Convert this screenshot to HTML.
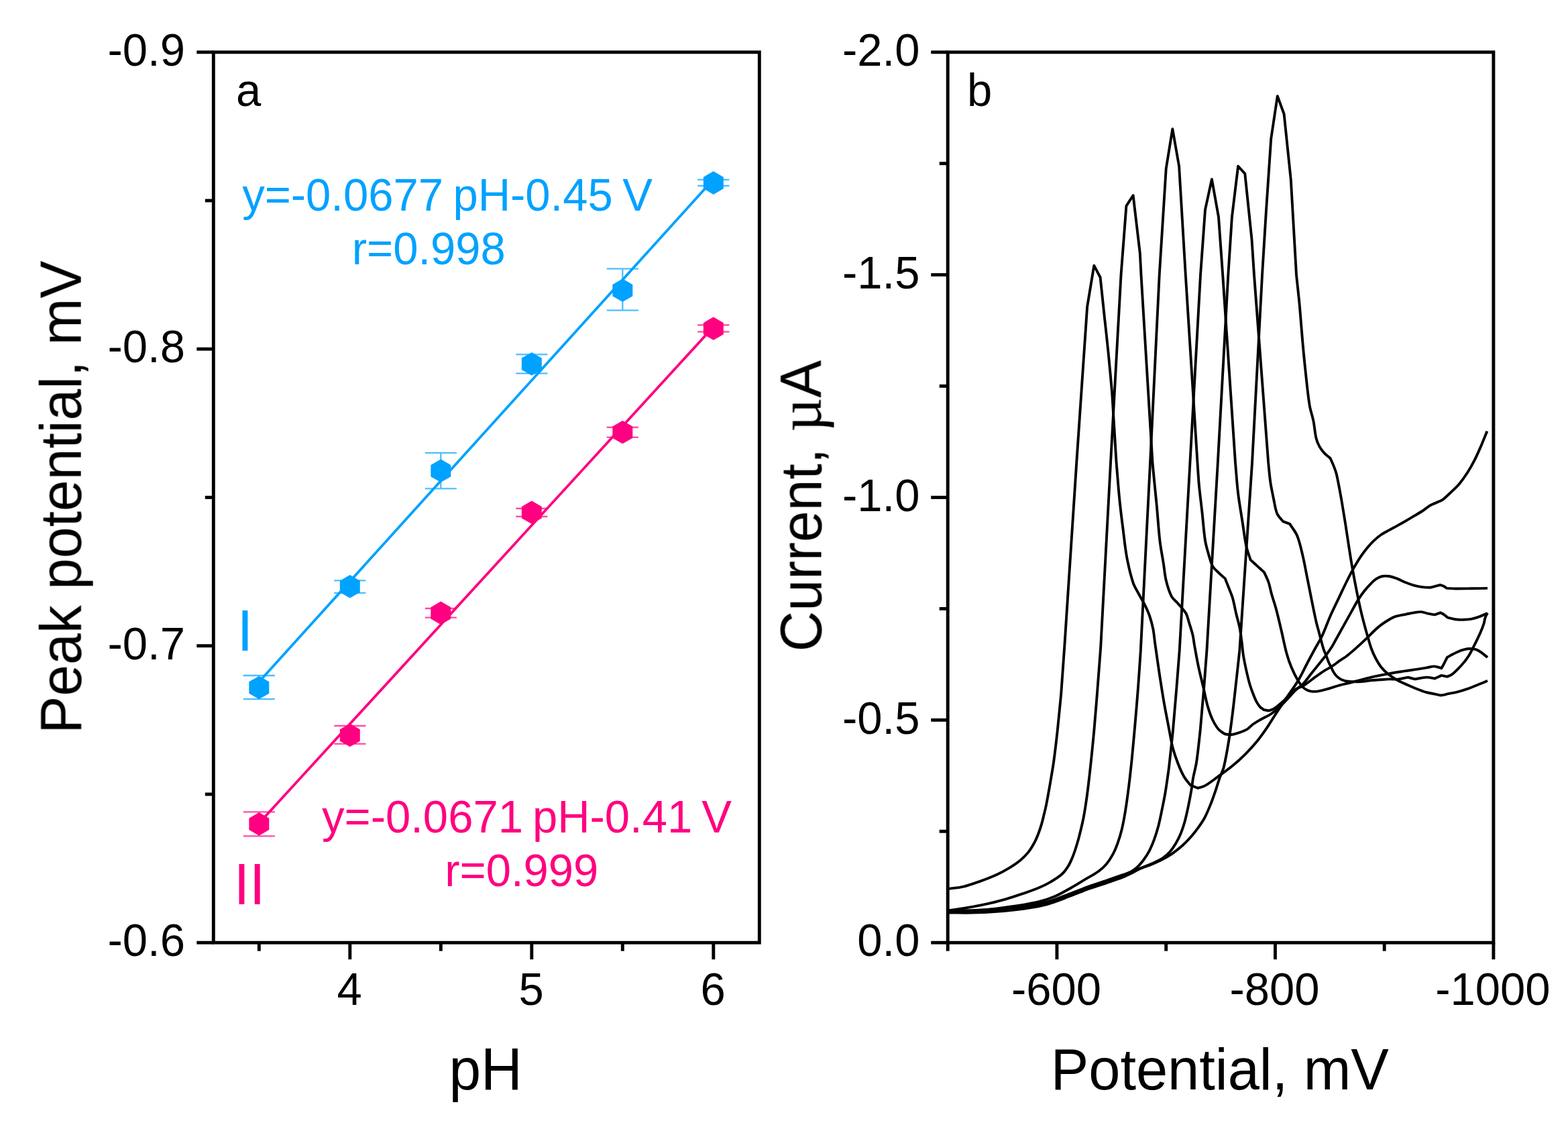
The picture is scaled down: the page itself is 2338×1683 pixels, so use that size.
<!DOCTYPE html>
<html lang="en">
<head>
<meta charset="utf-8">
<title>Peak potential vs pH and voltammograms</title>
<style>
html,body{margin:0;padding:0;background:#fff;}
body{width:2338px;height:1683px;overflow:hidden;}
svg{display:block;font-family:"Liberation Sans",sans-serif;}
</style>
</head>
<body>
<svg width="2338" height="1683" viewBox="0 0 2338 1683">
<defs><filter id="soft" x="0" y="0" width="2338" height="1683" filterUnits="userSpaceOnUse" color-interpolation-filters="sRGB"><feGaussianBlur stdDeviation="0.7"/></filter></defs>
<rect x="0" y="0" width="2338" height="1683" fill="#fff"/>
<g filter="url(#soft)">
<rect x="318.30" y="77.80" width="814.00" height="1327.40" fill="none" stroke="#000" stroke-width="4.9"/>
<line x1="293.30" y1="77.80" x2="318.30" y2="77.80" stroke="#000" stroke-width="4.9" stroke-linecap="butt"/>
<text transform="translate(276.00 98.00) scale(1 1.035)" font-size="67" text-anchor="end" fill="#000">-0.9</text>
<line x1="293.30" y1="520.27" x2="318.30" y2="520.27" stroke="#000" stroke-width="4.9" stroke-linecap="butt"/>
<text transform="translate(276.00 540.47) scale(1 1.035)" font-size="67" text-anchor="end" fill="#000">-0.8</text>
<line x1="293.30" y1="962.73" x2="318.30" y2="962.73" stroke="#000" stroke-width="4.9" stroke-linecap="butt"/>
<text transform="translate(276.00 982.93) scale(1 1.035)" font-size="67" text-anchor="end" fill="#000">-0.7</text>
<line x1="293.30" y1="1405.20" x2="318.30" y2="1405.20" stroke="#000" stroke-width="4.9" stroke-linecap="butt"/>
<text transform="translate(276.00 1425.40) scale(1 1.035)" font-size="67" text-anchor="end" fill="#000">-0.6</text>
<line x1="305.80" y1="299.03" x2="318.30" y2="299.03" stroke="#000" stroke-width="4.9" stroke-linecap="butt"/>
<line x1="305.80" y1="741.50" x2="318.30" y2="741.50" stroke="#000" stroke-width="4.9" stroke-linecap="butt"/>
<line x1="305.80" y1="1183.97" x2="318.30" y2="1183.97" stroke="#000" stroke-width="4.9" stroke-linecap="butt"/>
<line x1="521.80" y1="1405.20" x2="521.80" y2="1430.20" stroke="#000" stroke-width="4.9" stroke-linecap="butt"/>
<text transform="translate(521.20 1498.00) scale(1 1.035)" font-size="67" text-anchor="middle" fill="#000">4</text>
<line x1="792.80" y1="1405.20" x2="792.80" y2="1430.20" stroke="#000" stroke-width="4.9" stroke-linecap="butt"/>
<text transform="translate(792.20 1498.00) scale(1 1.035)" font-size="67" text-anchor="middle" fill="#000">5</text>
<line x1="1063.80" y1="1405.20" x2="1063.80" y2="1430.20" stroke="#000" stroke-width="4.9" stroke-linecap="butt"/>
<text transform="translate(1063.20 1498.00) scale(1 1.035)" font-size="67" text-anchor="middle" fill="#000">6</text>
<line x1="386.30" y1="1405.20" x2="386.30" y2="1417.70" stroke="#000" stroke-width="4.9" stroke-linecap="butt"/>
<line x1="657.30" y1="1405.20" x2="657.30" y2="1417.70" stroke="#000" stroke-width="4.9" stroke-linecap="butt"/>
<line x1="928.30" y1="1405.20" x2="928.30" y2="1417.70" stroke="#000" stroke-width="4.9" stroke-linecap="butt"/>
<text transform="translate(724.20 1624.00) scale(1 1.035)" font-size="85.6" text-anchor="middle" fill="#000">pH</text>
<text transform="translate(120.30 741.20) rotate(-90) scale(1 1.035)" font-size="84" text-anchor="middle" fill="#000">Peak potential, mV</text>
<text transform="translate(352.00 158.00) scale(1 1.035)" font-size="67" text-anchor="start" fill="#000">a</text>
<line x1="386.20" y1="1016.50" x2="1063.80" y2="267.30" stroke="#00A2FF" stroke-width="3.8" stroke-linecap="round"/>
<line x1="386.20" y1="1227.20" x2="1063.80" y2="487.20" stroke="#FF0080" stroke-width="3.8" stroke-linecap="round"/>
<path d="M362.70 1007.00H409.90M362.70 1042.20H409.90M386.30 1007.00V1042.20" fill="none" stroke="#00A2FF" stroke-width="2.3" opacity="0.7"/>
<path d="M498.20 865.40H545.40M498.20 883.90H545.40M521.80 865.40V883.90" fill="none" stroke="#00A2FF" stroke-width="2.3" opacity="0.7"/>
<path d="M633.70 675.20H680.90M633.70 728.30H680.90M657.30 675.20V728.30" fill="none" stroke="#00A2FF" stroke-width="2.3" opacity="0.7"/>
<path d="M769.20 528.30H816.40M769.20 556.70H816.40M792.80 528.30V556.70" fill="none" stroke="#00A2FF" stroke-width="2.3" opacity="0.7"/>
<path d="M904.70 400.60H951.90M904.70 462.60H951.90M928.30 400.60V462.60" fill="none" stroke="#00A2FF" stroke-width="2.3" opacity="0.7"/>
<path d="M1040.20 267.80H1087.40M1040.20 277.00H1087.40M1063.80 267.80V277.00" fill="none" stroke="#00A2FF" stroke-width="2.3" opacity="0.7"/>
<path d="M362.70 1210.40H409.90M362.70 1246.30H409.90M386.30 1210.40V1246.30" fill="none" stroke="#FF0080" stroke-width="2.3" opacity="0.7"/>
<path d="M498.20 1082.00H545.40M498.20 1108.90H545.40M521.80 1082.00V1108.90" fill="none" stroke="#FF0080" stroke-width="2.3" opacity="0.7"/>
<path d="M633.70 907.00H680.90M633.70 920.60H680.90M657.30 907.00V920.60" fill="none" stroke="#FF0080" stroke-width="2.3" opacity="0.7"/>
<path d="M769.20 758.00H816.40M769.20 770.00H816.40M792.80 758.00V770.00" fill="none" stroke="#FF0080" stroke-width="2.3" opacity="0.7"/>
<path d="M904.70 637.00H951.90M904.70 651.90H951.90M928.30 637.00V651.90" fill="none" stroke="#FF0080" stroke-width="2.3" opacity="0.7"/>
<path d="M1040.20 484.50H1087.40M1040.20 494.60H1087.40M1063.80 484.50V494.60" fill="none" stroke="#FF0080" stroke-width="2.3" opacity="0.7"/>
<polygon points="386.30,1007.70 371.32,1016.35 371.32,1033.65 386.30,1042.30 401.28,1033.65 401.28,1016.35" fill="#00A2FF"/>
<polygon points="521.80,857.00 506.82,865.65 506.82,882.95 521.80,891.60 536.78,882.95 536.78,865.65" fill="#00A2FF"/>
<polygon points="657.30,684.50 642.32,693.15 642.32,710.45 657.30,719.10 672.28,710.45 672.28,693.15" fill="#00A2FF"/>
<polygon points="792.80,525.20 777.82,533.85 777.82,551.15 792.80,559.80 807.78,551.15 807.78,533.85" fill="#00A2FF"/>
<polygon points="928.30,415.50 913.32,424.15 913.32,441.45 928.30,450.10 943.28,441.45 943.28,424.15" fill="#00A2FF"/>
<polygon points="1063.80,255.30 1048.82,263.95 1048.82,281.25 1063.80,289.90 1078.78,281.25 1078.78,263.95" fill="#00A2FF"/>
<polygon points="386.30,1211.10 371.32,1219.75 371.32,1237.05 386.30,1245.70 401.28,1237.05 401.28,1219.75" fill="#FF0080"/>
<polygon points="521.80,1078.70 506.82,1087.35 506.82,1104.65 521.80,1113.30 536.78,1104.65 536.78,1087.35" fill="#FF0080"/>
<polygon points="657.30,896.50 642.32,905.15 642.32,922.45 657.30,931.10 672.28,922.45 672.28,905.15" fill="#FF0080"/>
<polygon points="792.80,746.50 777.82,755.15 777.82,772.45 792.80,781.10 807.78,772.45 807.78,755.15" fill="#FF0080"/>
<polygon points="928.30,627.00 913.32,635.65 913.32,652.95 928.30,661.60 943.28,652.95 943.28,635.65" fill="#FF0080"/>
<polygon points="1063.80,472.50 1048.82,481.15 1048.82,498.45 1063.80,507.10 1078.78,498.45 1078.78,481.15" fill="#FF0080"/>
<text transform="translate(667.00 313.60) scale(1 1.035)" font-size="67" text-anchor="middle" fill="#00A2FF" word-spacing="-4.2">y=-0.0677 pH-0.45 V</text>
<text transform="translate(639.30 393.60) scale(1 1.035)" font-size="67" text-anchor="middle" fill="#00A2FF">r=0.998</text>
<text transform="translate(785.50 1241.00) scale(1 1.035)" font-size="67" text-anchor="middle" fill="#FF0080" word-spacing="-4.6">y=-0.0671 pH-0.41 V</text>
<text transform="translate(777.80 1321.00) scale(1 1.035)" font-size="67" text-anchor="middle" fill="#FF0080">r=0.999</text>
<text transform="translate(353.70 970.00) scale(1 1.035)" font-size="84" text-anchor="start" fill="#00A2FF">I</text>
<text transform="translate(348.70 1347.80) scale(1 1.035)" font-size="84" text-anchor="start" fill="#FF0080">II</text>
<rect x="1413.20" y="77.80" width="813.70" height="1327.40" fill="none" stroke="#000" stroke-width="4.9"/>
<line x1="1388.20" y1="77.80" x2="1413.20" y2="77.80" stroke="#000" stroke-width="4.9" stroke-linecap="butt"/>
<text transform="translate(1371.50 98.00) scale(1 1.035)" font-size="67" text-anchor="end" fill="#000">-2.0</text>
<line x1="1388.20" y1="409.65" x2="1413.20" y2="409.65" stroke="#000" stroke-width="4.9" stroke-linecap="butt"/>
<text transform="translate(1371.50 429.85) scale(1 1.035)" font-size="67" text-anchor="end" fill="#000">-1.5</text>
<line x1="1388.20" y1="741.50" x2="1413.20" y2="741.50" stroke="#000" stroke-width="4.9" stroke-linecap="butt"/>
<text transform="translate(1371.50 761.70) scale(1 1.035)" font-size="67" text-anchor="end" fill="#000">-1.0</text>
<line x1="1388.20" y1="1073.35" x2="1413.20" y2="1073.35" stroke="#000" stroke-width="4.9" stroke-linecap="butt"/>
<text transform="translate(1371.50 1093.55) scale(1 1.035)" font-size="67" text-anchor="end" fill="#000">-0.5</text>
<line x1="1388.20" y1="1405.20" x2="1413.20" y2="1405.20" stroke="#000" stroke-width="4.9" stroke-linecap="butt"/>
<text transform="translate(1371.50 1425.40) scale(1 1.035)" font-size="67" text-anchor="end" fill="#000">0.0</text>
<line x1="1400.70" y1="243.72" x2="1413.20" y2="243.72" stroke="#000" stroke-width="4.9" stroke-linecap="butt"/>
<line x1="1400.70" y1="575.58" x2="1413.20" y2="575.58" stroke="#000" stroke-width="4.9" stroke-linecap="butt"/>
<line x1="1400.70" y1="907.42" x2="1413.20" y2="907.42" stroke="#000" stroke-width="4.9" stroke-linecap="butt"/>
<line x1="1400.70" y1="1239.28" x2="1413.20" y2="1239.28" stroke="#000" stroke-width="4.9" stroke-linecap="butt"/>
<line x1="1575.94" y1="1405.20" x2="1575.94" y2="1430.20" stroke="#000" stroke-width="4.9" stroke-linecap="butt"/>
<text transform="translate(1574.94 1498.00) scale(1 1.035)" font-size="67" text-anchor="middle" fill="#000">-600</text>
<line x1="1901.42" y1="1405.20" x2="1901.42" y2="1430.20" stroke="#000" stroke-width="4.9" stroke-linecap="butt"/>
<text transform="translate(1900.42 1498.00) scale(1 1.035)" font-size="67" text-anchor="middle" fill="#000">-800</text>
<line x1="2226.90" y1="1405.20" x2="2226.90" y2="1430.20" stroke="#000" stroke-width="4.9" stroke-linecap="butt"/>
<text transform="translate(2225.90 1498.00) scale(1 1.035)" font-size="67" text-anchor="middle" fill="#000">-1000</text>
<line x1="1413.20" y1="1405.20" x2="1413.20" y2="1417.70" stroke="#000" stroke-width="4.9" stroke-linecap="butt"/>
<line x1="1738.68" y1="1405.20" x2="1738.68" y2="1417.70" stroke="#000" stroke-width="4.9" stroke-linecap="butt"/>
<line x1="2064.16" y1="1405.20" x2="2064.16" y2="1417.70" stroke="#000" stroke-width="4.9" stroke-linecap="butt"/>
<text transform="translate(1818.80 1624.00) scale(1 1.035)" font-size="84.8" text-anchor="middle" fill="#000">Potential, mV</text>
<text transform="translate(1224.30 754.20) rotate(-90) scale(1 1.035)" font-size="84" text-anchor="middle" fill="#000">Current, <tspan font-family="Liberation Serif,serif" font-size="88" dx="1">µ</tspan><tspan dx="0">A</tspan></text>
<text transform="translate(1442.00 158.00) scale(1 1.035)" font-size="67" text-anchor="start" fill="#000">b</text>
<path d="M1414.8 1324.9C1422.2 1323.8 1429.8 1323.3 1437.0 1321.6C1445.4 1319.6 1453.6 1316.5 1461.7 1313.6C1470.0 1310.6 1478.3 1307.4 1486.4 1303.7C1492.7 1300.8 1498.9 1297.4 1504.9 1293.8C1510.5 1290.4 1516.0 1286.8 1521.0 1282.7C1525.5 1279.0 1529.7 1274.9 1533.3 1270.4C1536.7 1266.2 1539.4 1261.5 1542.0 1256.8C1544.4 1252.4 1546.3 1247.8 1548.1 1243.2C1550.0 1238.4 1551.6 1233.4 1553.1 1228.4C1554.5 1223.5 1555.6 1218.5 1556.8 1213.6C1557.9 1209.1 1559.1 1204.6 1560.0 1200.0C1562.0 1189.8 1563.8 1179.5 1565.6 1169.3C1567.5 1158.2 1569.5 1147.1 1571.1 1135.9C1573.2 1120.5 1575.0 1105.1 1576.7 1089.6C1578.7 1071.1 1580.4 1052.6 1582.2 1034.1C1584.0 1009.4 1585.7 984.7 1587.5 960.0C1593.4 870.0 1599.3 780.0 1605.2 690.0C1610.5 612.5 1615.8 534.9 1621.1 457.4C1624.5 436.9 1627.9 416.4 1631.3 395.9C1634.4 401.8 1637.5 407.6 1640.6 413.5C1642.7 433.7 1644.9 453.8 1647.0 474.0C1648.9 491.3 1650.9 508.7 1652.6 526.0C1654.6 545.7 1656.3 565.3 1658.1 585.0C1660.3 620.0 1662.4 655.0 1664.6 690.0C1666.2 708.3 1667.5 726.6 1669.3 744.8C1670.9 760.3 1672.8 775.7 1674.8 791.1C1676.5 804.7 1677.8 818.4 1680.4 831.9C1682.8 844.4 1685.7 856.9 1689.6 868.9C1691.3 874.1 1694.4 878.8 1697.0 883.7C1700.0 889.3 1703.4 894.7 1706.3 900.4C1709.0 905.8 1711.7 911.3 1713.7 917.0C1716.0 923.6 1717.9 930.5 1719.3 937.4C1720.7 944.5 1721.2 951.8 1722.2 959.0C1724.3 973.5 1726.3 988.1 1728.5 1002.6C1730.9 1018.1 1733.2 1033.5 1735.9 1048.9C1738.2 1061.9 1740.8 1074.8 1743.3 1087.8C1745.1 1097.1 1746.5 1106.5 1748.9 1115.6C1750.9 1123.1 1753.5 1130.6 1756.3 1137.8C1759.0 1144.7 1761.9 1151.7 1765.6 1158.1C1768.1 1162.5 1771.7 1166.2 1774.8 1170.2C1778.5 1171.7 1782.2 1173.3 1785.9 1174.8C1789.6 1173.6 1793.6 1173.0 1797.0 1171.1C1803.5 1167.4 1809.5 1162.5 1815.6 1158.1C1823.1 1152.7 1830.7 1147.3 1837.8 1141.5C1844.2 1136.2 1850.4 1130.7 1856.3 1124.8C1862.8 1118.3 1869.0 1111.5 1874.8 1104.4C1880.1 1097.9 1884.9 1091.0 1889.6 1084.1C1894.1 1077.4 1898.2 1070.5 1902.6 1063.7C1907.8 1055.8 1913.1 1047.9 1918.4 1040.0C1924.1 1031.5 1930.3 1023.4 1935.5 1014.7C1940.5 1006.4 1944.5 997.5 1949.0 989.0C1953.0 981.4 1957.1 973.8 1961.2 966.3C1963.8 961.6 1966.7 957.0 1969.2 952.2C1970.8 949.2 1972.2 946.1 1973.5 943.0C1977.3 934.0 1980.7 924.8 1984.7 915.8C1988.6 907.1 1992.9 898.5 1997.0 889.9C2001.1 881.3 2005.1 872.6 2009.4 864.0C2012.5 857.7 2015.8 851.5 2019.3 845.4C2022.4 840.0 2025.6 834.6 2029.1 829.4C2032.0 825.1 2035.1 821.0 2038.4 817.0C2041.3 813.5 2044.3 810.0 2047.6 806.8C2051.1 803.5 2054.8 800.3 2058.8 797.5C2062.7 794.8 2067.0 792.7 2071.1 790.4C2075.2 788.1 2079.4 785.9 2083.5 783.6C2087.6 781.3 2091.7 779.1 2095.8 776.8C2099.9 774.4 2104.0 771.9 2108.1 769.4C2112.2 766.9 2116.5 764.6 2120.5 762.0C2124.7 759.3 2128.5 755.8 2132.8 753.3C2136.7 751.1 2141.1 749.7 2145.2 747.8C2147.3 746.8 2149.6 746.1 2151.4 744.7C2155.7 741.4 2159.7 737.4 2163.7 733.6C2167.9 729.6 2172.3 725.7 2176.0 721.2C2180.5 715.8 2184.6 709.9 2188.4 704.0C2192.0 698.4 2195.3 692.6 2198.3 686.7C2201.4 680.6 2204.1 674.3 2206.9 668.1C2209.1 663.2 2211.0 658.2 2213.1 653.3C2214.5 649.8 2216.0 646.3 2217.4 642.8" fill="none" stroke="#000" stroke-width="3.9" stroke-linejoin="round" stroke-linecap="butt"/>
<path d="M1414.8 1357.4C1426.3 1355.6 1437.9 1353.9 1449.4 1351.9C1457.7 1350.4 1465.9 1348.8 1474.1 1346.9C1482.4 1345.0 1490.6 1343.0 1498.8 1340.7C1507.1 1338.3 1515.3 1335.5 1523.5 1332.7C1531.7 1329.9 1540.1 1327.2 1548.1 1323.8C1554.5 1321.1 1560.7 1318.1 1566.7 1314.6C1572.4 1311.2 1578.3 1307.7 1583.2 1303.3C1586.9 1300.0 1589.8 1295.8 1592.5 1291.6C1595.0 1287.8 1596.8 1283.5 1598.6 1279.3C1600.5 1275.0 1602.0 1270.5 1603.5 1266.0C1605.1 1261.0 1606.6 1256.0 1608.0 1251.0C1609.4 1246.0 1610.6 1241.0 1611.8 1236.0C1613.1 1230.7 1614.3 1225.4 1615.4 1220.0C1616.6 1214.0 1617.6 1208.0 1618.5 1202.0C1620.0 1192.4 1621.3 1182.7 1622.5 1173.0C1624.0 1160.6 1625.4 1148.3 1626.7 1135.9C1628.3 1120.5 1629.9 1105.0 1631.3 1089.6C1633.0 1071.1 1634.4 1052.6 1635.9 1034.1C1637.7 1011.1 1639.4 988.0 1641.2 965.0C1646.1 873.3 1651.1 781.7 1656.0 690.0C1661.2 596.7 1666.3 503.3 1671.5 410.0C1674.1 375.7 1676.8 341.3 1679.4 307.0C1682.8 301.8 1686.2 296.5 1689.6 291.3C1693.0 320.0 1696.4 348.7 1699.8 377.4C1700.4 388.3 1700.9 399.1 1701.5 410.0C1707.2 503.3 1712.8 596.7 1718.5 690.0C1719.4 699.0 1720.2 708.0 1721.1 717.0C1722.3 729.4 1723.6 741.7 1724.8 754.1C1726.4 771.4 1727.4 788.7 1729.4 805.9C1730.8 817.7 1733.2 829.4 1735.0 841.1C1736.3 849.1 1736.7 857.3 1738.7 865.2C1740.7 873.4 1743.2 881.9 1747.0 889.3C1749.1 893.3 1753.3 895.9 1756.3 899.4C1760.4 904.3 1765.1 908.9 1768.3 914.3C1770.7 918.4 1771.5 923.5 1773.0 928.1C1774.9 934.3 1777.0 940.4 1778.5 946.7C1779.7 951.7 1780.1 956.9 1781.0 962.0C1782.9 972.4 1784.7 982.9 1786.9 993.3C1789.1 1003.8 1791.9 1014.3 1794.3 1024.8C1796.5 1034.1 1798.1 1043.5 1800.7 1052.6C1802.7 1059.5 1805.0 1066.5 1808.1 1073.0C1810.6 1078.2 1813.6 1083.5 1817.4 1087.8C1819.8 1090.6 1823.6 1092.1 1826.7 1094.3C1829.8 1094.6 1832.9 1095.5 1835.9 1095.2C1839.6 1094.8 1843.4 1093.6 1847.0 1092.4C1851.4 1090.9 1856.0 1089.3 1860.0 1086.9C1862.9 1085.1 1865.0 1082.0 1867.8 1080.0C1871.7 1077.2 1875.9 1074.9 1880.0 1072.5C1885.1 1069.5 1890.7 1067.3 1895.6 1064.0C1900.0 1061.1 1904.1 1057.6 1908.0 1054.0C1912.6 1049.8 1916.8 1045.1 1921.1 1040.5C1924.5 1036.9 1927.4 1032.9 1931.0 1029.5C1934.7 1025.9 1939.4 1023.3 1942.9 1019.6C1947.4 1014.9 1951.0 1009.4 1955.1 1004.3C1959.2 999.2 1963.3 994.1 1967.4 989.0C1970.7 984.9 1974.1 980.9 1977.2 976.7C1980.2 972.7 1983.0 968.7 1985.7 964.5C1987.6 961.5 1989.2 958.4 1990.9 955.3C1995.0 947.9 1999.1 940.5 2003.2 933.1C2007.3 925.7 2011.4 918.3 2015.6 910.9C2018.8 905.1 2021.9 899.2 2025.4 893.6C2028.1 889.3 2031.0 885.2 2034.1 881.2C2037.2 877.3 2040.5 873.6 2044.0 870.1C2046.7 867.4 2049.5 864.7 2052.6 862.7C2055.2 861.0 2058.2 859.6 2061.2 859.0C2064.4 858.4 2067.9 858.5 2071.1 859.0C2075.3 859.7 2079.5 861.2 2083.5 862.7C2087.7 864.3 2091.6 866.6 2095.8 868.3C2099.8 869.9 2103.9 871.4 2108.1 872.6C2112.2 873.7 2116.3 874.6 2120.5 875.1C2124.6 875.6 2128.7 876.0 2132.8 875.7C2135.3 875.5 2137.7 874.4 2140.2 873.8C2142.7 873.2 2145.2 872.6 2147.7 872.0C2149.3 872.6 2151.1 873.0 2152.6 873.8C2154.3 874.7 2155.9 875.9 2157.5 876.9C2161.6 877.1 2165.8 877.5 2169.9 877.5C2178.1 877.6 2186.4 877.4 2194.6 877.3C2202.4 877.2 2210.2 877.0 2218.0 876.9" fill="none" stroke="#000" stroke-width="3.9" stroke-linejoin="round" stroke-linecap="butt"/>
<path d="M1414.8 1359.3C1430.4 1358.5 1446.1 1358.3 1461.7 1357.0C1478.2 1355.6 1494.7 1353.4 1511.1 1351.0C1523.5 1349.2 1536.0 1347.4 1548.1 1344.5C1556.5 1342.5 1564.9 1339.7 1572.8 1336.3C1581.3 1332.6 1589.4 1327.8 1597.5 1323.2C1604.6 1319.2 1611.5 1314.8 1618.5 1310.6C1624.7 1306.9 1631.2 1303.7 1637.0 1299.5C1641.5 1296.3 1645.8 1292.6 1649.4 1288.4C1653.2 1283.9 1656.5 1278.8 1659.3 1273.6C1662.3 1268.1 1664.6 1262.2 1666.7 1256.3C1669.1 1249.7 1671.1 1242.9 1672.8 1236.0C1674.7 1228.1 1676.1 1220.0 1677.5 1212.0C1679.0 1202.9 1680.3 1193.8 1681.5 1184.7C1682.6 1176.5 1683.6 1168.2 1684.6 1160.0C1685.7 1150.1 1686.8 1140.3 1687.8 1130.4C1689.4 1113.7 1690.9 1097.1 1692.4 1080.4C1694.0 1061.9 1695.6 1043.3 1697.0 1024.8C1698.4 1006.5 1699.5 988.3 1700.8 970.0C1705.5 876.7 1710.3 783.3 1715.0 690.0C1719.6 596.7 1724.1 503.3 1728.7 410.0C1732.0 357.2 1735.4 304.3 1738.7 251.5C1741.9 231.7 1745.1 212.0 1748.3 192.2C1751.6 210.7 1754.8 229.3 1758.1 247.8C1761.3 301.9 1764.6 355.9 1767.8 410.0C1773.7 503.3 1779.6 596.7 1785.5 690.0C1786.3 700.9 1786.8 711.8 1787.8 722.6C1789.1 736.2 1790.9 749.7 1792.4 763.3C1794.0 777.5 1794.8 791.8 1797.0 805.9C1798.2 813.4 1800.5 820.8 1802.6 828.1C1804.2 833.4 1805.4 839.2 1808.1 843.9C1810.3 847.8 1814.1 850.9 1817.4 854.1C1820.3 857.0 1823.6 859.6 1826.7 862.4C1828.5 867.0 1830.4 871.7 1832.2 876.3C1834.1 881.2 1836.4 886.0 1837.8 891.1C1840.1 899.0 1841.4 907.2 1843.3 915.2C1845.0 922.2 1847.1 929.0 1848.5 936.0C1849.9 943.3 1850.7 950.7 1851.7 958.0C1852.5 964.3 1852.9 970.7 1853.9 977.0C1855.2 984.8 1856.8 992.5 1858.5 1000.2C1859.9 1006.4 1861.3 1012.6 1863.1 1018.7C1864.4 1023.4 1866.1 1028.0 1867.8 1032.6C1869.5 1037.0 1871.1 1041.4 1873.3 1045.6C1874.8 1048.5 1876.7 1051.4 1878.9 1053.9C1880.4 1055.6 1882.6 1056.7 1884.4 1058.1C1886.9 1058.5 1889.4 1059.0 1891.9 1059.4C1894.4 1058.5 1897.0 1058.0 1899.3 1056.7C1902.0 1055.2 1904.3 1053.1 1906.7 1051.1C1909.2 1049.0 1911.7 1046.9 1914.1 1044.6C1917.2 1041.6 1920.2 1038.4 1923.3 1035.4C1926.3 1032.5 1929.2 1029.3 1932.6 1027.0C1935.7 1025.0 1939.7 1024.5 1942.9 1022.5C1949.3 1018.5 1955.1 1013.6 1961.2 1009.2C1965.3 1006.3 1969.3 1003.3 1973.5 1000.6C1977.3 998.2 1981.4 996.3 1985.1 993.9C1989.5 991.0 1993.7 987.7 1998.0 984.7C2001.3 982.4 2004.8 980.4 2008.0 978.0C2012.7 974.3 2017.2 970.4 2021.7 966.4C2027.6 961.2 2033.3 955.8 2039.0 950.4C2042.4 947.2 2045.5 943.7 2048.9 940.5C2052.1 937.5 2055.3 934.5 2058.8 931.9C2062.7 929.0 2066.9 926.3 2071.1 923.8C2074.3 921.9 2077.5 920.0 2081.0 918.9C2085.8 917.4 2090.9 916.8 2095.8 915.8C2099.9 915.0 2104.0 914.0 2108.1 913.3C2111.8 912.7 2115.6 911.9 2119.3 912.1C2122.6 912.3 2125.8 913.9 2129.1 914.6C2132.4 915.3 2135.7 915.8 2139.0 916.4C2141.9 915.4 2144.8 914.3 2147.7 913.3C2149.3 914.1 2151.1 914.8 2152.6 915.8C2154.8 917.3 2156.7 919.1 2158.8 920.7C2162.5 921.5 2166.2 922.7 2169.9 923.2C2174.0 923.7 2178.1 923.9 2182.2 923.8C2186.3 923.7 2190.5 923.4 2194.6 922.6C2198.8 921.8 2202.9 920.4 2206.9 918.9C2210.7 917.5 2214.3 915.6 2218.0 914.0" fill="none" stroke="#000" stroke-width="3.9" stroke-linejoin="round" stroke-linecap="butt"/>
<path d="M1414.8 1357.0C1426.3 1357.0 1437.9 1357.4 1449.4 1357.1C1461.7 1356.8 1474.1 1356.2 1486.4 1355.3C1498.8 1354.4 1511.2 1353.3 1523.5 1351.6C1535.9 1349.8 1548.4 1348.1 1560.5 1344.8C1573.1 1341.4 1585.2 1336.1 1597.5 1331.5C1606.6 1328.1 1615.6 1324.3 1624.7 1321.0C1632.9 1318.1 1641.2 1315.6 1649.4 1312.8C1657.7 1310.0 1665.9 1307.1 1674.1 1304.2C1678.2 1302.7 1682.5 1301.5 1686.4 1299.5C1689.5 1297.9 1692.5 1295.7 1695.1 1293.3C1698.7 1290.0 1701.9 1286.1 1704.9 1282.2C1708.1 1277.9 1711.1 1273.4 1713.6 1268.6C1716.5 1263.1 1718.8 1257.3 1721.0 1251.4C1723.4 1244.9 1725.4 1238.3 1727.2 1231.6C1729.1 1224.3 1730.6 1216.8 1732.1 1209.4C1733.8 1201.2 1735.5 1193.0 1737.0 1184.7C1738.3 1177.2 1739.4 1169.6 1740.5 1162.0C1741.5 1155.2 1742.5 1148.4 1743.3 1141.5C1745.3 1124.2 1747.0 1106.9 1748.9 1089.6C1750.7 1068.0 1752.6 1046.4 1754.4 1024.8C1755.8 1006.5 1757.3 988.3 1758.7 970.0C1763.9 876.7 1769.2 783.3 1774.4 690.0C1779.6 596.7 1784.8 503.3 1790.0 410.0C1792.3 377.5 1794.7 345.1 1797.0 312.6C1800.3 297.5 1803.6 282.3 1806.9 267.2C1810.3 286.0 1813.6 304.9 1817.0 323.7C1819.1 352.5 1821.1 381.2 1823.2 410.0C1829.5 503.3 1835.7 596.7 1842.0 690.0C1843.4 705.2 1844.3 720.5 1846.1 735.6C1847.8 749.8 1850.4 763.9 1852.6 778.1C1854.4 789.8 1855.6 801.7 1858.1 813.3C1859.6 820.5 1862.4 827.5 1864.6 834.6C1868.0 837.7 1871.4 840.8 1874.8 843.9C1878.2 847.0 1881.6 850.0 1885.0 853.1C1887.2 858.1 1889.8 862.9 1891.5 868.0C1893.4 873.4 1894.2 879.2 1895.8 884.7C1898.1 893.0 1901.0 901.1 1903.2 909.4C1905.9 919.4 1908.1 929.5 1910.5 939.5C1913.2 950.9 1915.3 962.4 1918.4 973.7C1920.4 981.0 1922.8 988.2 1925.7 995.1C1928.5 1001.8 1931.8 1008.4 1935.5 1014.7C1937.6 1018.2 1940.1 1021.6 1942.9 1024.5C1944.6 1026.3 1946.8 1027.7 1949.0 1028.8C1950.9 1029.7 1953.0 1030.4 1955.1 1030.6C1958.1 1031.0 1961.3 1031.0 1964.3 1030.6C1969.5 1029.8 1974.5 1028.4 1979.6 1027.0C1985.8 1025.3 1991.8 1023.1 1998.0 1021.4C2002.6 1020.1 2007.3 1019.2 2012.0 1018.0C2018.0 1016.5 2024.0 1014.8 2030.0 1013.3C2036.2 1011.7 2042.3 1010.1 2048.5 1008.7C2056.2 1007.0 2063.9 1005.5 2071.7 1004.1C2079.4 1002.7 2087.1 1001.6 2094.8 1000.4C2101.0 999.4 2107.1 998.6 2113.3 997.6C2117.9 996.9 2122.6 996.1 2127.2 995.3C2130.9 994.7 2134.6 993.6 2138.3 993.4C2140.2 993.3 2142.1 993.9 2143.9 994.4C2145.8 994.9 2147.6 995.6 2149.4 996.2C2150.6 993.9 2151.9 991.6 2153.1 989.3C2154.7 986.2 2156.2 983.1 2157.8 980.0C2160.0 978.8 2162.1 977.5 2164.3 976.3C2167.3 974.7 2170.4 973.0 2173.5 971.7C2176.5 970.4 2179.6 969.2 2182.8 968.4C2185.8 967.6 2188.9 967.0 2192.0 967.0C2195.1 967.0 2198.4 967.4 2201.3 968.4C2203.9 969.3 2206.4 971.0 2208.7 972.6C2211.9 974.9 2214.9 977.5 2218.0 980.0" fill="none" stroke="#000" stroke-width="3.9" stroke-linejoin="round" stroke-linecap="butt"/>
<path d="M1414.8 1359.0C1426.3 1359.0 1437.9 1359.4 1449.4 1359.1C1461.7 1358.8 1474.1 1358.2 1486.4 1357.3C1498.8 1356.4 1511.2 1355.3 1523.5 1353.6C1535.9 1351.8 1548.4 1350.1 1560.5 1346.8C1573.1 1343.4 1585.2 1338.1 1597.5 1333.5C1606.6 1330.1 1615.6 1326.3 1624.7 1323.0C1632.9 1320.1 1641.2 1317.6 1649.4 1314.8C1657.7 1312.0 1666.0 1309.3 1674.1 1306.2C1678.3 1304.6 1682.3 1302.5 1686.4 1300.6C1690.5 1298.7 1694.6 1296.8 1698.8 1295.0C1702.9 1293.3 1707.0 1291.7 1711.1 1290.0C1715.2 1288.3 1719.5 1286.7 1723.5 1284.7C1727.3 1282.8 1731.2 1280.9 1734.6 1278.5C1738.1 1276.0 1741.5 1273.1 1744.4 1269.9C1747.7 1266.1 1750.5 1261.8 1753.1 1257.5C1755.9 1252.8 1758.4 1247.8 1760.5 1242.7C1763.0 1236.7 1764.9 1230.5 1766.7 1224.2C1768.6 1217.3 1770.1 1210.2 1771.6 1203.2C1773.3 1195.0 1774.9 1186.8 1776.3 1178.5C1777.4 1172.4 1777.9 1166.1 1779.0 1160.0C1780.5 1151.9 1782.9 1144.0 1784.1 1135.9C1786.4 1120.5 1787.8 1105.0 1789.6 1089.6C1791.5 1068.0 1793.3 1046.4 1795.2 1024.8C1796.6 1006.5 1798.0 988.3 1799.4 970.0C1804.9 876.7 1810.3 783.3 1815.8 690.0C1821.0 596.7 1826.1 503.3 1831.3 410.0C1833.2 381.2 1835.0 352.5 1836.9 323.7C1840.0 298.4 1843.0 273.1 1846.1 247.8C1849.5 251.5 1852.9 255.2 1856.3 258.9C1859.7 291.6 1863.1 324.3 1866.5 357.0C1867.7 374.7 1868.8 392.3 1870.0 410.0C1877.1 503.3 1884.1 596.7 1891.2 690.0C1892.2 699.6 1892.9 709.3 1894.3 718.9C1895.5 727.0 1897.2 735.0 1898.9 743.0C1900.5 750.4 1901.3 758.3 1904.1 765.2C1905.9 769.7 1909.9 773.2 1912.8 777.2C1916.2 778.4 1919.6 779.7 1923.0 780.9C1926.7 786.8 1931.5 792.1 1934.1 798.5C1938.0 807.9 1940.0 818.1 1942.4 828.1C1944.9 838.3 1946.6 848.7 1948.7 859.0C1950.0 865.5 1951.3 872.0 1952.6 878.5C1954.2 886.7 1955.8 895.0 1957.5 903.2C1959.1 911.0 1960.7 918.9 1962.5 926.7C1963.6 931.5 1965.0 936.2 1966.3 941.0C1967.3 944.7 1968.2 948.5 1969.2 952.2C1970.6 957.3 1971.8 962.5 1973.5 967.6C1974.5 970.7 1976.0 973.7 1977.2 976.7C1978.6 980.4 1979.8 984.2 1981.4 987.8C1982.5 990.3 1983.9 992.7 1985.1 995.1C1986.3 997.6 1987.3 1000.2 1988.8 1002.5C1990.2 1004.7 1991.8 1006.9 1993.7 1008.6C1995.9 1010.5 1998.3 1012.4 2001.0 1013.5C2004.4 1014.9 2008.3 1015.6 2012.0 1015.9C2017.9 1016.4 2024.0 1016.4 2030.0 1016.1C2034.7 1015.9 2039.3 1014.8 2043.9 1014.3C2048.5 1013.8 2053.2 1013.6 2057.8 1013.3C2062.4 1013.0 2067.1 1012.6 2071.7 1012.4C2076.3 1012.3 2081.0 1012.9 2085.6 1012.4C2090.2 1011.9 2094.8 1010.5 2099.4 1009.6C2102.8 1010.5 2106.2 1011.5 2109.6 1012.4C2115.5 1011.5 2121.3 1009.8 2127.2 1009.6C2131.2 1009.5 2135.3 1010.9 2139.3 1011.5C2142.7 1010.0 2146.0 1008.4 2149.4 1006.9C2152.2 1007.5 2155.0 1008.1 2157.8 1008.7C2160.0 1007.8 2162.4 1007.2 2164.3 1005.9C2167.6 1003.5 2170.6 1000.5 2173.5 997.6C2176.7 994.4 2179.9 991.0 2182.8 987.4C2185.5 984.2 2188.0 980.7 2190.2 977.2C2192.3 973.9 2193.9 970.4 2195.7 967.0C2197.6 963.3 2199.5 959.6 2201.3 955.9C2203.5 951.3 2205.8 946.7 2207.8 942.0C2209.5 938.1 2211.1 934.1 2212.4 930.0C2213.4 926.7 2213.7 923.2 2214.8 920.0C2215.5 917.9 2216.9 916.0 2218.0 914.0" fill="none" stroke="#000" stroke-width="3.9" stroke-linejoin="round" stroke-linecap="butt"/>
<path d="M1414.8 1360.5C1426.3 1360.5 1437.9 1360.9 1449.4 1360.6C1461.7 1360.3 1474.1 1359.7 1486.4 1358.8C1498.8 1357.9 1511.2 1356.8 1523.5 1355.1C1535.9 1353.3 1548.4 1351.6 1560.5 1348.3C1573.1 1344.9 1585.2 1339.6 1597.5 1335.0C1606.6 1331.6 1615.6 1327.8 1624.7 1324.5C1632.9 1321.6 1641.2 1319.1 1649.4 1316.3C1657.7 1313.5 1666.0 1310.8 1674.1 1307.7C1678.3 1306.1 1682.4 1304.1 1686.4 1302.1C1690.6 1300.0 1694.5 1297.4 1698.8 1295.5C1704.8 1292.8 1711.2 1291.0 1717.3 1288.4C1722.7 1286.1 1728.1 1283.7 1733.3 1281.0C1738.4 1278.4 1743.4 1275.5 1748.1 1272.3C1753.3 1268.7 1758.3 1264.7 1763.0 1260.5C1767.4 1256.6 1771.4 1252.4 1775.3 1248.0C1779.2 1243.6 1782.9 1238.9 1786.4 1234.1C1790.0 1229.1 1793.6 1224.0 1796.5 1218.5C1800.0 1211.9 1802.7 1204.9 1805.5 1198.0C1808.2 1191.1 1810.6 1184.0 1813.0 1177.0C1814.9 1171.4 1816.5 1165.6 1818.5 1160.0C1820.5 1154.4 1823.4 1149.1 1824.8 1143.3C1827.9 1130.5 1830.1 1117.4 1832.2 1104.4C1834.4 1090.9 1836.1 1077.3 1837.8 1063.7C1839.8 1047.7 1841.5 1031.6 1843.3 1015.6C1845.0 1000.4 1846.6 985.2 1848.3 970.0C1854.5 876.7 1860.8 783.3 1867.0 690.0C1872.0 596.7 1877.0 503.3 1882.0 410.0C1883.9 378.8 1885.9 347.5 1887.8 316.3C1890.3 279.9 1892.7 243.4 1895.2 207.0C1898.4 185.7 1901.6 164.4 1904.8 143.1C1908.1 152.1 1911.3 161.0 1914.6 170.0C1918.0 202.7 1921.4 235.4 1924.8 268.1C1927.5 315.4 1930.3 362.7 1933.0 410.0C1934.6 425.2 1936.4 440.4 1937.8 455.6C1939.5 474.0 1940.7 492.5 1942.4 511.0C1943.8 526.5 1945.3 542.0 1947.0 557.4C1948.7 572.9 1950.1 588.4 1952.6 603.7C1953.9 611.9 1956.9 619.8 1958.5 628.0C1960.2 636.4 1960.5 645.0 1962.5 653.3C1963.5 657.6 1965.3 661.8 1967.4 665.7C1969.4 669.3 1972.0 672.6 1974.8 675.6C1977.4 678.4 1980.6 680.5 1983.5 683.0C1985.1 686.7 1986.9 690.3 1988.4 694.1C1990.0 698.1 1991.6 702.2 1992.7 706.4C1994.0 711.3 1994.8 716.3 1995.8 721.2C1997.1 727.8 1998.3 734.4 1999.5 741.0C2000.6 747.2 2001.6 753.3 2002.6 759.5C2003.7 766.4 2004.9 773.4 2006.0 780.3C2007.4 789.0 2008.6 797.8 2010.0 806.5C2011.8 818.2 2013.6 830.0 2015.6 841.7C2017.1 850.8 2018.8 859.8 2020.5 868.9C2022.1 877.1 2023.7 885.4 2025.4 893.6C2027.0 901.0 2028.6 908.4 2030.4 915.8C2031.8 921.7 2033.4 927.6 2035.0 933.5C2036.4 938.8 2037.9 944.2 2039.5 949.5C2041.2 955.3 2042.7 961.3 2044.8 967.0C2046.6 972.0 2048.8 976.8 2051.3 981.5C2053.8 986.1 2056.4 990.7 2059.6 994.8C2062.3 998.2 2065.6 1001.3 2068.9 1004.1C2071.7 1006.5 2075.0 1008.6 2078.1 1010.6C2081.1 1012.6 2084.2 1014.5 2087.4 1016.1C2091.6 1018.2 2096.1 1019.8 2100.4 1021.7C2104.7 1023.5 2109.0 1025.5 2113.3 1027.2C2117.6 1028.9 2121.9 1030.6 2126.3 1031.9C2130.5 1033.1 2135.0 1033.7 2139.3 1034.6C2142.4 1035.2 2145.4 1036.6 2148.5 1036.5C2152.2 1036.4 2155.9 1035.0 2159.6 1034.2C2164.2 1033.3 2168.9 1032.6 2173.5 1031.4C2178.2 1030.2 2182.8 1028.8 2187.4 1027.2C2192.1 1025.6 2196.7 1023.5 2201.3 1021.7C2204.4 1020.5 2207.5 1019.3 2210.6 1018.0C2213.1 1017.0 2215.5 1015.8 2218.0 1014.7" fill="none" stroke="#000" stroke-width="3.9" stroke-linejoin="round" stroke-linecap="butt"/>
</g>
</svg>
</body>
</html>
